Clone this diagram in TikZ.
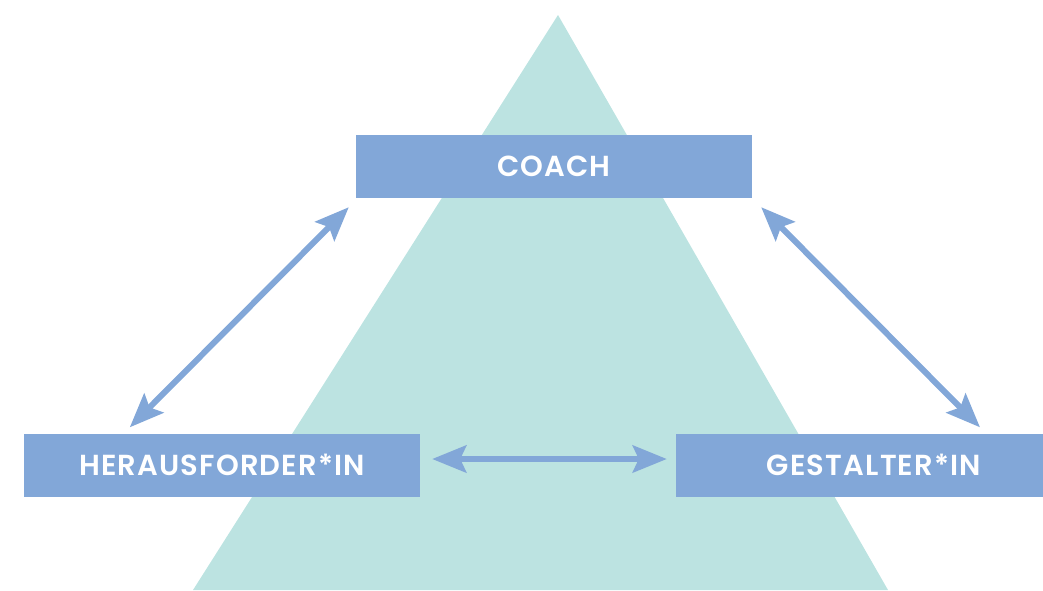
\documentclass[tikz,border=0pt]{standalone}
\usepackage{fontspec}
\setmainfont{Poppins}[BoldFont={Poppins SemiBold}]
\usetikzlibrary{arrows.meta,calc}

\definecolor{pyramid}{HTML}{BCE3E1}
\definecolor{rolebox}{HTML}{82A7D8}

\tikzset{
  role/.style={fill=rolebox, text=white, minimum width=396pt, minimum height=63pt,
    inner sep=0pt, font=\fontsize{29}{34}\selectfont\bfseries\addfontfeatures{LetterSpace=4}},
  link/.style={{Stealth[length=34pt,width=27pt,inset=6pt]}-{Stealth[length=34pt,width=27pt,inset=6pt]},
    rolebox, line width=6pt}
}

\begin{document}
\begin{tikzpicture}[x=1pt, y=-1pt]
  \useasboundingbox (0,0) rectangle (1043,590);
  \clip (0,0) rectangle (1043,590);
  \fill[pyramid] (558,15) -- (888,590) -- (193,590) -- cycle;

  \node[role] (coach) at (554,166.5) {COACH};
  \node[role] (herausforderin) at (222,465) {HERAUSFORDER*IN};
  \node[role] (gestalterin) at (874,465) {GESTALTER*IN};

  \draw[link] ($(coach.south west)+(-7,9)$) -- ($(herausforderin.north west)+(106,-6)$);
  \draw[link] ($(coach.south east)+(9,9)$) -- ($(gestalterin.north)+(106,-6)$);
  \draw[link] ($(herausforderin.east)+(12,-6)$) -- ($(gestalterin.west)+(-9,-6)$);
\end{tikzpicture}
\end{document}
